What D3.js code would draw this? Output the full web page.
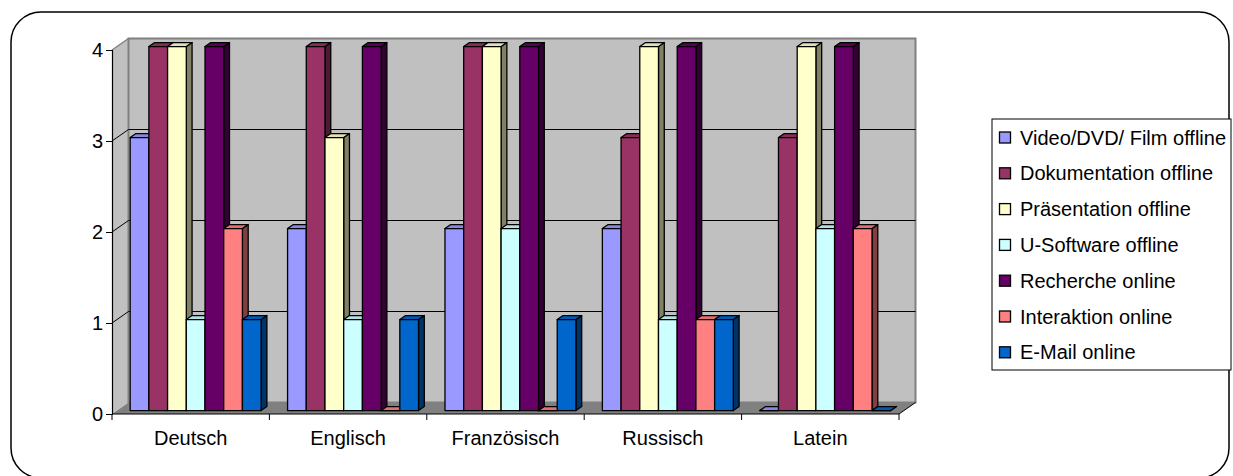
<!DOCTYPE html>
<html>
<head>
<meta charset="utf-8">
<script src="https://cdn.jsdelivr.net/npm/d3@7"></script>
<style>
  html, body { margin: 0; padding: 0; background: #fff; }
  svg { display: block; }
  text { font-family: "Liberation Sans", Arial, sans-serif; fill: #000; }
</style>
</head>
<body>
<svg id="chart" width="1233" height="476"></svg>
<script>
// Categories (subjects) and series (media types)
const categories = ["Deutsch", "Englisch", "Französisch", "Russisch", "Latein"];
const seriesNames = [
  "Video/DVD/ Film offline",
  "Dokumentation offline",
  "Präsentation offline",
  "U-Software offline",
  "Recherche online",
  "Interaktion online",
  "E-Mail online"
];
const seriesColors = ["#9999FF", "#993366", "#FFFFCC", "#CCFFFF", "#660066", "#FF8080", "#0066CC"];

// Values per series, in category order
const videoOffline         = [3, 2, 2, 2, 0];
const dokumentationOffline = [4, 4, 4, 3, 3];
const praesentationOffline = [4, 3, 4, 4, 4];
const uSoftwareOffline     = [1, 1, 2, 1, 2];
const rechercheOnline      = [4, 4, 4, 4, 4];
const interaktionOnline    = [2, 0, 0, 1, 2];
const emailOnline          = [1, 1, 1, 1, 0];
const seriesValues = [videoOffline, dokumentationOffline, praesentationOffline,
  uSoftwareOffline, rechercheOnline, interaktionOnline, emailOnline];

const yTicks = [0, 1, 2, 3, 4];

const FONT_SIZE = 20;
const svg = d3.select("#chart");

// Outer chart frame
svg.append("rect")
  .attr("x", 11).attr("y", 12).attr("width", 1218).attr("height", 466)
  .attr("rx", 30).attr("ry", 30)
  .attr("fill", "#fff").attr("stroke", "#000").attr("stroke-width", 1.5);

// Front plane scales
const x0 = d3.scaleBand().domain(categories).range([112, 899]).paddingInner(0).paddingOuter(0);
const xInner = d3.scaleBand().domain(d3.range(seriesNames.length))
  .range([x0.bandwidth() * 0.084, x0.bandwidth() * 0.916]).padding(0);
const y = d3.scaleLinear().domain([0, 4]).range([414, 50]);

// Oblique depth projection
const DX = 16.5, DY = 11.5;
const proj = (x, v, z) => [x + z * DX, y(v) - z * DY];
const poly = pts => "M" + pts.map(p => p.join(",")).join("L") + "Z";

const xL = x0.range()[0], xR = x0.range()[1];

// Walls and floor
svg.append("path")
  .attr("d", poly([proj(xL, 0, 0), proj(xL, 4, 0), proj(xL, 4, 1), proj(xL, 0, 1)]))
  .attr("fill", "#c0c0c0").attr("stroke", "none");
svg.append("path")
  .attr("d", poly([proj(xL, 0, 1), proj(xL, 4, 1), proj(xR, 4, 1), proj(xR, 0, 1)]))
  .attr("fill", "#c0c0c0").attr("stroke", "#808080").attr("stroke-width", 2);
svg.append("path")
  .attr("d", poly([proj(xL, 0, 0), proj(xL, 0, 1), proj(xR, 0, 1), proj(xR, 0, 0)]))
  .attr("fill", "#808080").attr("stroke", "none");
svg.append("path")
  .attr("d", poly([proj(xL, 4, 0), proj(xL, 4, 1)]).replace("Z", ""))
  .attr("fill", "none").attr("stroke", "#808080").attr("stroke-width", 1.5);

// Gridlines across side wall and back wall
yTicks.filter(v => v > 0 && v < 4).forEach(v => {
  const a = proj(xL, v, 0), b = proj(xL, v, 1), c = proj(xR, v, 1);
  svg.append("path")
    .attr("d", `M${a}L${b}L${c}`)
    .attr("fill", "none").attr("stroke", "#000").attr("stroke-width", 1);
});

// Floor right edge
svg.append("line")
  .attr("x1", proj(xR, 0, 0)[0]).attr("y1", proj(xR, 0, 0)[1])
  .attr("x2", proj(xR, 0, 1)[0]).attr("y2", proj(xR, 0, 1)[1])
  .attr("stroke", "#000").attr("stroke-width", 1);

// Bars: side face, top face, then front face, left to right
const z0 = 0.3, z1 = 0.65;
const barsG = svg.append("g");
categories.forEach((cat, ci) => {
  seriesNames.forEach((name, si) => {
    const v = seriesValues[si][ci];
    const xs = x0(cat) + xInner(si);
    const xe = xs + xInner.bandwidth();
    const col = d3.color(seriesColors[si]);
    const top = col.darker(0.35);
    const side = d3.rgb(col.r * 0.5, col.g * 0.5, col.b * 0.5);
    const sw = 1.3;
    barsG.append("path")
      .attr("d", poly([proj(xe, 0, z0), proj(xe, v, z0), proj(xe, v, z1), proj(xe, 0, z1)]))
      .attr("fill", side).attr("stroke", "#000").attr("stroke-width", sw).attr("stroke-linejoin", "round");
    barsG.append("path")
      .attr("d", poly([proj(xs, v, z0), proj(xe, v, z0), proj(xe, v, z1), proj(xs, v, z1)]))
      .attr("fill", top).attr("stroke", "#000").attr("stroke-width", sw).attr("stroke-linejoin", "round");
    barsG.append("path")
      .attr("d", poly([proj(xs, 0, z0), proj(xs, v, z0), proj(xe, v, z0), proj(xe, 0, z0)]))
      .attr("fill", col).attr("stroke", "#000").attr("stroke-width", sw).attr("stroke-linejoin", "round");
  });
});

// Value axis
const yAxis = svg.append("g").attr("transform", `translate(${xL},0)`)
  .call(d3.axisLeft(y).tickValues(yTicks).tickFormat(d3.format("d")).tickSize(6).tickPadding(3));
yAxis.select(".domain").attr("stroke", "#000").attr("stroke-width", 1.2);
yAxis.selectAll(".tick line").attr("stroke", "#000");
yAxis.selectAll("text").attr("font-size", FONT_SIZE).attr("font-family", "Liberation Sans, Arial, sans-serif");

// Category axis (ticks at category boundaries)
svg.append("line")
  .attr("x1", xL).attr("x2", xR).attr("y1", y(0)).attr("y2", y(0))
  .attr("stroke", "#000").attr("stroke-width", 1.2);
const bounds = categories.map(c => x0(c)).concat([xR]);
svg.selectAll(".xtick").data(bounds).enter().append("line")
  .attr("x1", d => d).attr("x2", d => d)
  .attr("y1", y(0)).attr("y2", y(0) + 6)
  .attr("stroke", "#000").attr("stroke-width", 1);
svg.selectAll(".xlabel").data(categories).enter().append("text")
  .attr("x", d => x0(d) + x0.bandwidth() / 2)
  .attr("y", 445)
  .attr("text-anchor", "middle")
  .attr("font-size", FONT_SIZE)
  .text(d => d);

// Legend
const lg = svg.append("g");
lg.append("rect")
  .attr("x", 992).attr("y", 119).attr("width", 239).attr("height", 251)
  .attr("fill", "#fff").attr("stroke", "#000").attr("stroke-width", 1);
seriesNames.forEach((name, i) => {
  const cy = 137.5 + i * 35.8;
  lg.append("rect")
    .attr("x", 999.5).attr("y", cy - 5.5).attr("width", 11).attr("height", 11)
    .attr("fill", seriesColors[i]).attr("stroke", "#000").attr("stroke-width", 1.3);
  lg.append("text")
    .attr("x", 1020).attr("y", cy)
    .attr("dominant-baseline", "central")
    .attr("font-size", FONT_SIZE)
    .text(name);
});
</script>
</body>
</html>
